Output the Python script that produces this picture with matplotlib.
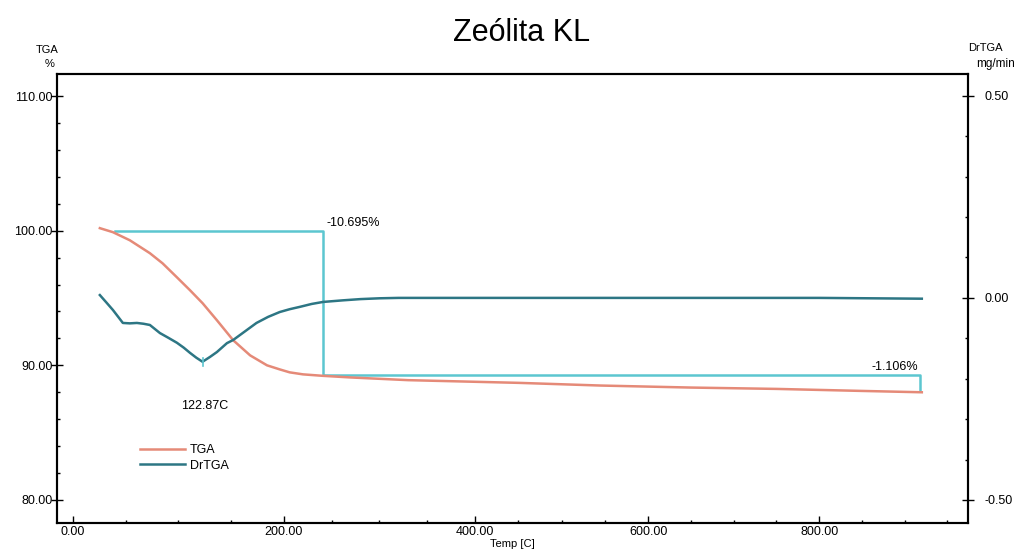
#!/usr/bin/env python3
# -*- coding: utf-8 -*-
"""
Curva TGA / DrTGA da zeólita KL, redesenhada a partir do relatório do equipamento.

Saída:
  out.png
"""

import numpy as np
import matplotlib
matplotlib.use("Agg")
import matplotlib.pyplot as plt
from matplotlib.ticker import MultipleLocator, FixedLocator


# --- dados ---------------------------------------------------------------
TGA_TEMP = [25.6, 38, 54, 73, 85, 98.6, 111, 123, 136.5, 152, 168, 184, 196,
            206, 220, 241, 270, 330, 450, 545, 650, 750, 850, 920]
TGA_PCT = [100.19, 99.89, 99.29, 98.33, 97.58, 96.54, 95.58, 94.61, 93.35, 91.86,
           90.74, 90.0, 89.7, 89.48, 89.33, 89.22, 89.1, 88.9, 88.7, 88.5, 88.35,
           88.25, 88.1, 88.0]

DTG_TEMP = [25.6, 32, 38, 43, 47.4, 54, 60.7, 67, 73, 82.5, 90, 98.6, 105, 111,
            117, 122.87, 130, 136.5, 146, 152, 163, 174, 185, 196, 206, 217, 229,
            241, 262, 280, 300, 320, 400, 500, 600, 700, 800, 920]
DTG_VAL = [0.007, -0.012, -0.030, -0.047, -0.062, -0.063, -0.062, -0.064, -0.067,
           -0.087, -0.098, -0.111, -0.123, -0.136, -0.148, -0.158, -0.146, -0.134,
           -0.112, -0.104, -0.083, -0.062, -0.047, -0.035, -0.028, -0.022, -0.015,
           -0.010, -0.006, -0.003, -0.001, 0.0, 0.0, 0.0, 0.0, 0.0, 0.0, -0.002]

# análise de degraus (perda de massa)
STEP_TEMP = [40, 241, 241, 918, 918]
STEP_PCT = [100.0, 100.0, 89.305, 89.305, 88.2]
STEP1_LABEL = "-10.695%"
STEP2_LABEL = "-1.106%"
PEAK_TEMP = 122.87
PEAK_LABEL = "122.87C"

X_TICKS = [0, 200, 400, 600, 800]
X_TICK_LABELS = ["0.00", "200.00", "400.00", "600.00", "800.00"]
Y_TICKS = [80, 90, 100, 110]
Y_TICK_LABELS = ["80.00", "90.00", "100.00", "110.00"]
Y2_TICKS = [-0.5, 0.0, 0.5]
Y2_TICK_LABELS = ["-0.50", "0.00", "0.50"]

TITLE = "Zeólita KL"

# --- estilo ----------------------------------------------------------------
C_TGA = "#e58a78"
C_DTG = "#2d7684"
C_STEP = "#5cc6d0"
FONT = ["Liberation Sans", "DejaVu Sans"]

# O eixo de temperatura do relatório não é linear (escala do aparelho);
# mapeamos por interpolação entre as marcas principais.
SCALE_T = [-100, 0, 200, 400, 600, 800, 1100]
SCALE_P = [-105.5, 0, 211, 402, 575, 746, 746 + 300 * 0.855]


def fwd(t):
    return np.interp(t, SCALE_T, SCALE_P)


def inv(p):
    return np.interp(p, SCALE_P, SCALE_T)


def main() -> None:
    plt.rcParams["font.family"] = FONT

    fig = plt.figure(figsize=(10.24, 5.54), dpi=100)
    ax = fig.add_axes([57 / 1024, 1 - 523 / 554, 911 / 1024, 449 / 554])
    ax2 = ax.twinx()

    ax.set_xscale("function", functions=(fwd, inv))
    ax.set_xlim(-15, 974)
    ax.set_ylim(78.29, 111.64)
    ax2.set_ylim(-0.557, 0.554)

    l1, = ax.plot(TGA_TEMP, TGA_PCT, color=C_TGA, lw=1.8, label="TGA", zorder=3)
    l2, = ax2.plot(DTG_TEMP, DTG_VAL, color=C_DTG, lw=1.8, label="DrTGA", zorder=3)
    ax.plot(STEP_TEMP, STEP_PCT, color=C_STEP, lw=1.8, zorder=2)

    # marca no mínimo da DrTGA
    peak_val = DTG_VAL[DTG_TEMP.index(PEAK_TEMP)]
    ax2.plot([PEAK_TEMP, PEAK_TEMP], [peak_val - 0.01, peak_val + 0.01],
             color=C_STEP, lw=1.2, zorder=4)

    ax.text(245, 100.1, STEP1_LABEL, fontsize=9, va="bottom", ha="left")
    ax.text(916, 89.85, STEP2_LABEL, fontsize=9, va="center", ha="right")
    ax.text(125, 86.95, PEAK_LABEL, fontsize=9, va="center", ha="center")

    # eixos e marcas
    ax.xaxis.set_major_locator(FixedLocator(X_TICKS))
    ax.xaxis.set_minor_locator(MultipleLocator(50))
    ax.set_xticklabels(X_TICK_LABELS)
    ax.set_yticks(Y_TICKS)
    ax.set_yticklabels(Y_TICK_LABELS)
    ax.yaxis.set_minor_locator(MultipleLocator(2))
    ax2.set_yticks(Y2_TICKS)
    ax2.set_yticklabels(Y2_TICK_LABELS)
    ax2.yaxis.set_minor_locator(MultipleLocator(0.1))

    ax.tick_params(axis="x", which="major", direction="in", length=5, width=1,
                   pad=2, labelsize=9)
    ax.tick_params(axis="x", which="minor", direction="in", length=2, width=1)
    ax.tick_params(axis="y", which="major", direction="inout", length=8, width=1,
                   pad=-1, labelsize=9)
    ax.tick_params(axis="y", which="minor", direction="in", length=2, width=1)
    ax2.tick_params(axis="y", which="major", direction="inout", length=8, width=1,
                    pad=8, labelsize=9)
    ax2.tick_params(axis="y", which="minor", direction="in", length=2, width=1)

    for a in (ax, ax2):
        for s in a.spines.values():
            s.set_linewidth(1.5)

    ax.set_xlabel("Temp [C]", fontsize=8, labelpad=1)

    ax.legend([l1, l2], ["TGA", "DrTGA"], loc="center left",
              bbox_to_anchor=(0.091, 0.145), frameon=False, fontsize=9,
              handlelength=3.6, handletextpad=0.4, borderpad=0,
              borderaxespad=0, labelspacing=0.3)

    fig.text(522 / 1024, 1 - 33 / 554, TITLE, fontsize=22, ha="center", va="center")
    fig.text(47 / 1024, 1 - 50 / 554, "TGA", fontsize=8, ha="center", va="center")
    fig.text(50 / 1024, 1 - 64 / 554, "%", fontsize=8, ha="center", va="center")
    fig.text(985 / 1024, 1 - 48 / 554, "DrTGA", fontsize=8, ha="center", va="center")
    fig.text(996 / 1024, 1 - 64 / 554, "mg/min", fontsize=8.5, ha="center", va="center")

    fig.savefig("out.png", dpi=100)
    plt.close(fig)


if __name__ == "__main__":
    main()
